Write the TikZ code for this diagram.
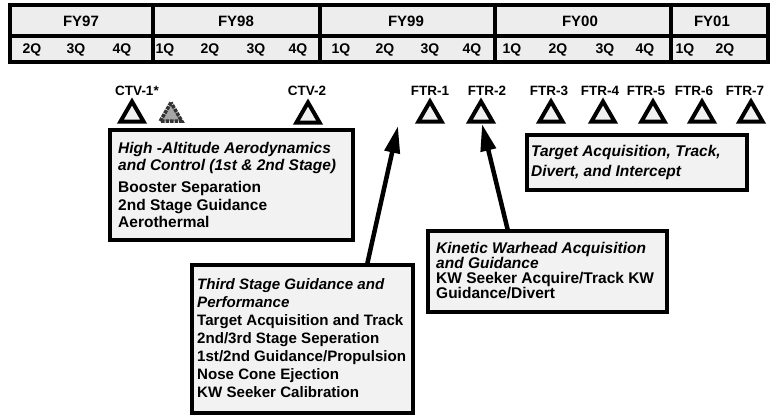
\documentclass[tikz,border=0pt]{standalone}
\usepackage{fontspec}
\setmainfont{Liberation Sans}
\usetikzlibrary{shapes.geometric,arrows.meta}
\begin{document}
\begin{tikzpicture}[x=1pt,y=-1pt,
  cell/.style={draw, line width=3.2pt, fill=black!7, inner sep=0pt, outer sep=0pt, anchor=north west},
  fylab/.style={font=\fontsize{15}{17}\selectfont\bfseries, inner sep=0pt},
  qlab/.style={font=\fontsize{14}{16}\selectfont\bfseries, inner sep=0pt},
  tri/.style={regular polygon, regular polygon sides=3, minimum size=27pt, inner sep=0pt, draw, line width=4pt, fill=black!6},
  dottri/.style={regular polygon, regular polygon sides=3, minimum size=25pt, inner sep=0pt, draw=black!80, densely dotted, line width=3.5pt, fill=black!35},
  mlab/.style={font=\fontsize{13.5}{15}\selectfont\bfseries, inner sep=0pt},
  box/.style={draw, line width=3.2pt, fill=black!5, inner sep=0pt, outer sep=0pt, anchor=north west},
  boxtxt/.style={anchor=north west, inner sep=0pt, align=left},
  arr/.style={line width=4.5pt, -{Triangle[width=15pt,length=27pt]}}
]
\useasboundingbox (0,0) rectangle (772,420);

% ---- schedule table ----
\node[cell, minimum width=143pt, minimum height=31pt] (c97) at (10,5) {};
\node[cell, minimum width=167pt, minimum height=31pt] (c98) at (153,5) {};
\node[cell, minimum width=175pt, minimum height=31pt] (c99) at (320,5) {};
\node[cell, minimum width=176pt, minimum height=31pt] (c00) at (495,5) {};
\node[cell, minimum width=97pt, minimum height=31pt] (c01) at (671,5) {};
\node[cell, minimum width=143pt, minimum height=26pt] (r97) at (10,36) {};
\node[cell, minimum width=167pt, minimum height=26pt] (r98) at (153,36) {};
\node[cell, minimum width=175pt, minimum height=26pt] (r99) at (320,36) {};
\node[cell, minimum width=176pt, minimum height=26pt] (r00) at (495,36) {};
\node[cell, minimum width=97pt, minimum height=26pt] (r01) at (671,36) {};

\node[fylab] (fy97) at (81,21) {FY97};
\node[fylab] (fy98) at (236,21) {FY98};
\node[fylab] (fy99) at (406,21) {FY99};
\node[fylab] (fy00) at (580,21) {FY00};
\node[fylab] (fy01) at (712,21) {FY01};

\node[qlab] (q97b) at (32,50) {2Q};
\node[qlab] (q97c) at (76,50) {3Q};
\node[qlab] (q97d) at (122,50) {4Q};
\node[qlab] (q98a) at (165,50) {1Q};
\node[qlab] (q98b) at (210,50) {2Q};
\node[qlab] (q98c) at (256,50) {3Q};
\node[qlab] (q98d) at (298,50) {4Q};
\node[qlab] (q99a) at (341,50) {1Q};
\node[qlab] (q99b) at (385,50) {2Q};
\node[qlab] (q99c) at (430,50) {3Q};
\node[qlab] (q99d) at (472,50) {4Q};
\node[qlab] (q00a) at (512,50) {1Q};
\node[qlab] (q00b) at (558,50) {2Q};
\node[qlab] (q00c) at (605,50) {3Q};
\node[qlab] (q00d) at (645,50) {4Q};
\node[qlab] (q01a) at (685,50) {1Q};
\node[qlab] (q01b) at (725,50) {2Q};

% ---- milestones ----
\node[mlab] (lctv1) at (137,91) {CTV-1*};
\node[mlab] (lctv2) at (307,91) {CTV-2};
\node[mlab] (lftr1) at (430,91) {FTR-1};
\node[mlab] (lftr2) at (487,91) {FTR-2};
\node[mlab] (lftr3) at (549,91) {FTR-3};
\node[mlab] (lftr4) at (600,91) {FTR-4};
\node[mlab] (lftr5) at (646,91) {FTR-5};
\node[mlab] (lftr6) at (694,91) {FTR-6};
\node[mlab] (lftr7) at (745,91) {FTR-7};

\node[tri] (tctv1) at (132,115) {};
\node[dottri] (tctv1b) at (171,115) {};
\node[tri] (tctv2) at (308,116) {};
\node[tri] (tftr1) at (430,115) {};
\node[tri] (tftr2) at (481,115) {};
\node[tri] (tftr3) at (551,115) {};
\node[tri] (tftr4) at (603,115) {};
\node[tri] (tftr5) at (653,115) {};
\node[tri] (tftr6) at (702,115) {};
\node[tri] (tftr7) at (751,115) {};

% ---- boxes ----
\node[box, minimum width=243pt, minimum height=110pt] (b1) at (110,130) {};
\node[boxtxt, font=\fontsize{15.5}{17.5}\selectfont\bfseries] (b1t) at (118,142)
  {\itshape High -Altitude Aerodynamics\\ \itshape and Control (1st \& 2nd Stage)\\[4.5pt]
   Booster Separation\\ 2nd Stage Guidance\\ Aerothermal};

\node[box, minimum width=221pt, minimum height=148pt] (b2) at (192,265) {};
\node[boxtxt, font=\fontsize{15.1}{18}\selectfont\bfseries] (b2t) at (197,278)
  {\itshape Third Stage Guidance and\\ \itshape Performance\\ Target Acquisition and Track\\
   2nd/3rd Stage Seperation\\ 1st/2nd Guidance/Propulsion\\ Nose Cone Ejection\\ KW Seeker Calibration};

\node[box, minimum width=239pt, minimum height=81pt] (b3) at (428,231) {};
\node[boxtxt, font=\fontsize{15.5}{15}\selectfont\bfseries] (b3t) at (436,242)
  {\itshape Kinetic Warhead Acquisition\\ \itshape and Guidance\\ KW Seeker Acquire/Track KW\\ Guidance/Divert};

\node[box, minimum width=220pt, minimum height=55pt] (b4) at (527,135) {};
\node[boxtxt, font=\fontsize{15.5}{20}\selectfont\bfseries\itshape] (b4t) at (531,145)
  {Target Acquisition, Track,\\ Divert, and Intercept};

% ---- arrows ----
\coordinate (a1s) at (367,265);
\coordinate (a1e) at (398,126);
\coordinate (a2s) at (508,231);
\coordinate (a2e) at (482,124);
\draw[arr] (a1s) -- (a1e);
\draw[arr] (a2s) -- (a2e);
\end{tikzpicture}
\end{document}
